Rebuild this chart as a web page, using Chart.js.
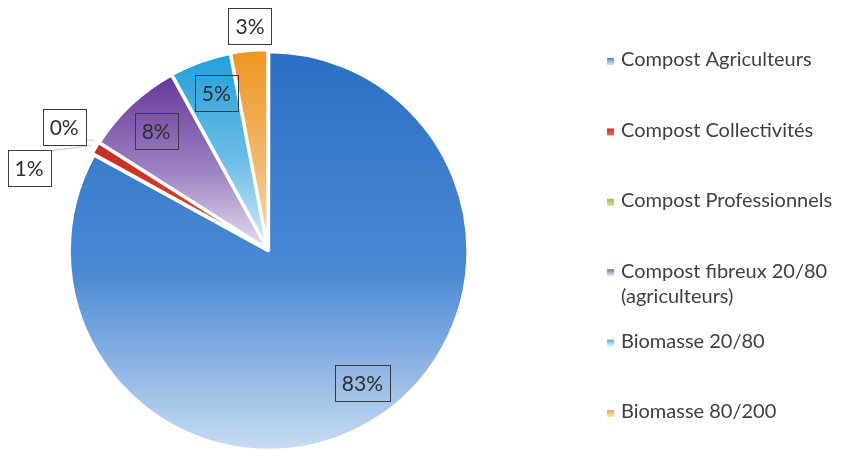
<!DOCTYPE html>
<html>
<head>
<meta charset="utf-8">
<script src="https://cdn.jsdelivr.net/npm/chart.js@4.4.1/dist/chart.umd.min.js"></script>
<style>
  html, body { margin: 0; padding: 0; background: #fff; }
</style>
</head>
<body>
<canvas id="myChart" width="841" height="450"></canvas>
<script>
// setup
const categories = [
  'Compost Agriculteurs',
  'Compost Collectivités',
  'Compost Professionnels',
  ['Compost fibreux 20/80', '(agriculteurs)'],
  'Biomasse 20/80',
  'Biomasse 80/200'
];
const shares = [83, 1, 0, 8, 5, 3];
const valueLabels = ['83%', '1%', '0%', '8%', '5%', '3%'];

// gradient stops of each slice, top to bottom
const sliceColors = [
  ['#2B70C5', '#4A88D3', '#C8DBF2'],
  ['#C42A20', '#D2402F', '#E0604E'],
  ['#8DB33A', '#A6C663', '#C9DE8E'],
  ['#66379A', '#9C82C2', '#E6DEF1'],
  ['#239FDA', '#6DBDE6', '#D6EEF9'],
  ['#EE9623', '#F2B76A', '#F9DDB0']
];

// where each percentage box goes: share of the radius, angle nudge (deg)
const labelPlacement = [
  { f: 0.80, turn: -4.7, inside: true },
  { f: 1.25, turn: -11.7, leader: true },
  { f: 1.177, turn: -1.3, leader: true },
  { f: 0.80, turn: 0, inside: true },
  { f: 0.81, turn: 1.6, inside: true },
  { f: 1.11, turn: 0.8 }
];

const RADIUS = 198;
const FONT = 'Lato, "Open Sans", sans-serif';

function sliceGradient(context) {
  const chart = context.chart;
  const i = context.dataIndex;
  const stops = sliceColors[i];
  const area = chart.chartArea;
  if (!area) return stops[0];
  const cy = (area.top + area.bottom) / 2;
  const total = shares.reduce((a, b) => a + b, 0);
  let start = -Math.PI / 2;
  for (let k = 0; k < i; k++) start += shares[k] / total * Math.PI * 2;
  const end = start + shares[i] / total * Math.PI * 2;
  let minY = cy, maxY = cy;
  for (let s = 0; s <= 60; s++) {
    const y = cy + RADIUS * Math.sin(start + (end - start) * s / 60);
    minY = Math.min(minY, y);
    maxY = Math.max(maxY, y);
  }
  if (maxY - minY < 1) maxY = minY + 1;
  const g = chart.ctx.createLinearGradient(0, minY, 0, maxY);
  g.addColorStop(0, stops[0]);
  g.addColorStop(0.55, stops[1]);
  g.addColorStop(1, stops[2]);
  return g;
}

// percentage boxes next to / on the slices
const boxLabels = {
  id: 'boxLabels',
  afterDatasetsDraw(chart) {
    const ctx = chart.ctx;
    const meta = chart.getDatasetMeta(0);
    ctx.save();
    ctx.font = '21px ' + FONT;
    ctx.textAlign = 'center';
    ctx.textBaseline = 'middle';
    meta.data.forEach((arc, i) => {
      const p = arc.getProps(['x', 'y', 'startAngle', 'endAngle', 'outerRadius']);
      const off = arc.options.offset || 0;
      const midRaw = (p.startAngle + p.endAngle) / 2;
      const place = labelPlacement[i];
      const mid = midRaw + place.turn * Math.PI / 180;
      const d = place.f * p.outerRadius + off;
      const lx = p.x + Math.cos(mid) * d;
      const ly = p.y + Math.sin(mid) * d;
      const w = Math.round(ctx.measureText(valueLabels[i]).width + 14);
      const h = 36;
      const bx = Math.round(lx - w / 2) + 0.5;
      const by = Math.round(ly - h / 2) + 0.5;

      if (place.leader) {
        // faint line from the slice edge to the box
        const ex = p.x + Math.cos(midRaw) * (p.outerRadius + off + 2);
        const ey = p.y + Math.sin(midRaw) * (p.outerRadius + off + 2);
        const tx = Math.min(Math.max(ex, bx), bx + w);
        const ty = Math.min(Math.max(ey, by), by + h);
        ctx.strokeStyle = '#c8c8c8';
        ctx.lineWidth = 1;
        ctx.beginPath();
        ctx.moveTo(ex, ey);
        ctx.lineTo(tx, ty);
        ctx.stroke();
      }
      if (!place.inside) {
        ctx.fillStyle = '#fff';
        ctx.fillRect(bx, by, w, h);
      }
      ctx.strokeStyle = '#3a3a3a';
      ctx.lineWidth = 1;
      ctx.strokeRect(bx, by, w, h);
      ctx.fillStyle = '#2e2e2e';
      ctx.fillText(valueLabels[i], lx, ly + 1);
    });
    ctx.restore();
  }
};

// legend on the right, one row per category
const sideLegend = {
  id: 'sideLegend',
  afterDraw(chart) {
    const ctx = chart.ctx;
    ctx.save();
    ctx.font = '20px ' + FONT;
    ctx.textAlign = 'left';
    ctx.textBaseline = 'middle';
    categories.forEach((label, i) => {
      const y = 60 + i * 70.4;
      const g = ctx.createLinearGradient(0, y - 4, 0, y + 4);
      g.addColorStop(0, sliceColors[i][0]);
      g.addColorStop(1, sliceColors[i][2]);
      ctx.fillStyle = g;
      ctx.fillRect(607, y - 2, 7, 7);
      ctx.fillStyle = '#404040';
      const lines = Array.isArray(label) ? label : [label];
      lines.forEach((line, j) => ctx.fillText(line, 621, y + j * 25));
    });
    ctx.restore();
  }
};

// config
const config = {
  type: 'pie',
  data: {
    labels: categories,
    datasets: [{
      data: shares,
      backgroundColor: sliceGradient,
      borderColor: '#ffffff',
      borderWidth: 3,
      offset: 5,
      radius: RADIUS,
      clip: false
    }]
  },
  options: {
    responsive: false,
    animation: false,
    events: [],
    layout: { padding: { left: 20, right: 325, top: 50, bottom: 0 } },
    plugins: {
      legend: { display: false },
      tooltip: { enabled: false }
    }
  },
  plugins: [boxLabels, sideLegend]
};

// render init block
const myChart = new Chart(document.getElementById('myChart'), config);
</script>
</body>
</html>
